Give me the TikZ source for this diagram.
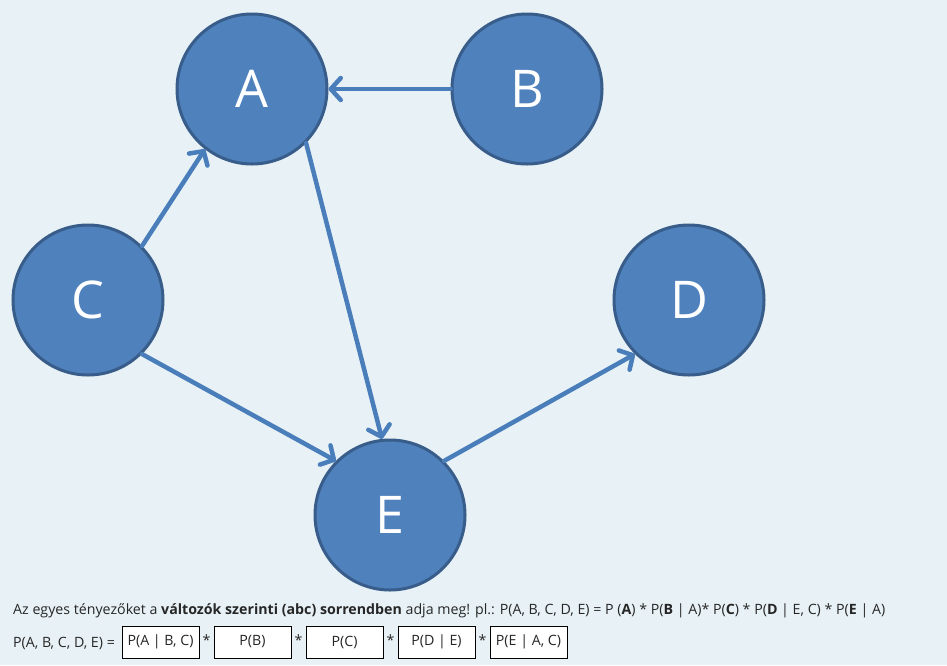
\documentclass[tikz,border=0pt]{standalone}
\usepackage{fontspec}
\setmainfont{Open Sans}
\usetikzlibrary{arrows.meta}
\definecolor{bg}{RGB}{232,242,246}
\definecolor{nodefill}{RGB}{79,129,189}
\definecolor{nodeline}{RGB}{56,93,138}
\definecolor{edgecol}{RGB}{74,126,187}
\begin{document}
\begin{tikzpicture}[x=1pt,y=-1pt,
  vnode/.style={circle,fill=nodefill,draw=nodeline,line width=3pt,minimum size=150pt,inner sep=0pt,text=white,font=\fontsize{52}{52}\selectfont},
  edge/.style={draw=edgecol,line width=4.5pt,line cap=round,-{Straight Barb[length=10pt,width=22pt,line width=4.5pt,round]}},
  ansbox/.style={draw=black,fill=white,line width=1pt,minimum width=77pt,minimum height=32pt,inner sep=0pt,font=\fontsize{14.2}{17}\selectfont,text=black!85},
  txt/.style={font=\fontsize{14.2}{17}\selectfont,text=black!85,inner sep=0pt,anchor=base west}]
\fill[bg] (0,0) rectangle (947,665);
\useasboundingbox (0,0) rectangle (947,665);
\node[vnode] (A) at (252,89) {A};
\node[vnode] (B) at (527,89) {B};
\node[vnode] (C) at (88,300) {C};
\node[vnode] (D) at (689,300) {D};
\node[vnode] (E) at (390,515) {E};
\draw[edge] (B) -- (A);
\draw[edge] (C.45) -- (A.-128);
\draw[edge] (A.-45) -- (E.96);
\draw[edge] (C.-45) -- (E.135);
\draw[edge] (E.45) -- (D.-135);
\node[txt] (t1) at (13,614) {Az egyes tényezőket a \textbf{változók szerinti (abc) sorrendben} adja meg! pl.: P(A, B, C, D, E) = P (\textbf{A}) * P(\textbf{B} | A)* P(\textbf{C}) * P(\textbf{D} | E, C) * P(\textbf{E} | A)};
\node[txt] (t2) at (13,647) {P(A, B, C, D, E) =};
\node[ansbox] (b1) at (160.5,642) {P(A | B, C)};
\node[ansbox] (b2) at (252.5,642) {P(B)};
\node[ansbox] (b3) at (344.5,642) {P(C)};
\node[ansbox] (b4) at (436.5,642) {P(D | E)};
\node[ansbox] (b5) at (528.5,642) {P(E | A, C)};
\node[txt,anchor=center] (s1) at (206.5,640) {*};
\node[txt,anchor=center] (s2) at (298.5,640) {*};
\node[txt,anchor=center] (s3) at (390.5,640) {*};
\node[txt,anchor=center] (s4) at (482.5,640) {*};
\end{tikzpicture}
\end{document}
